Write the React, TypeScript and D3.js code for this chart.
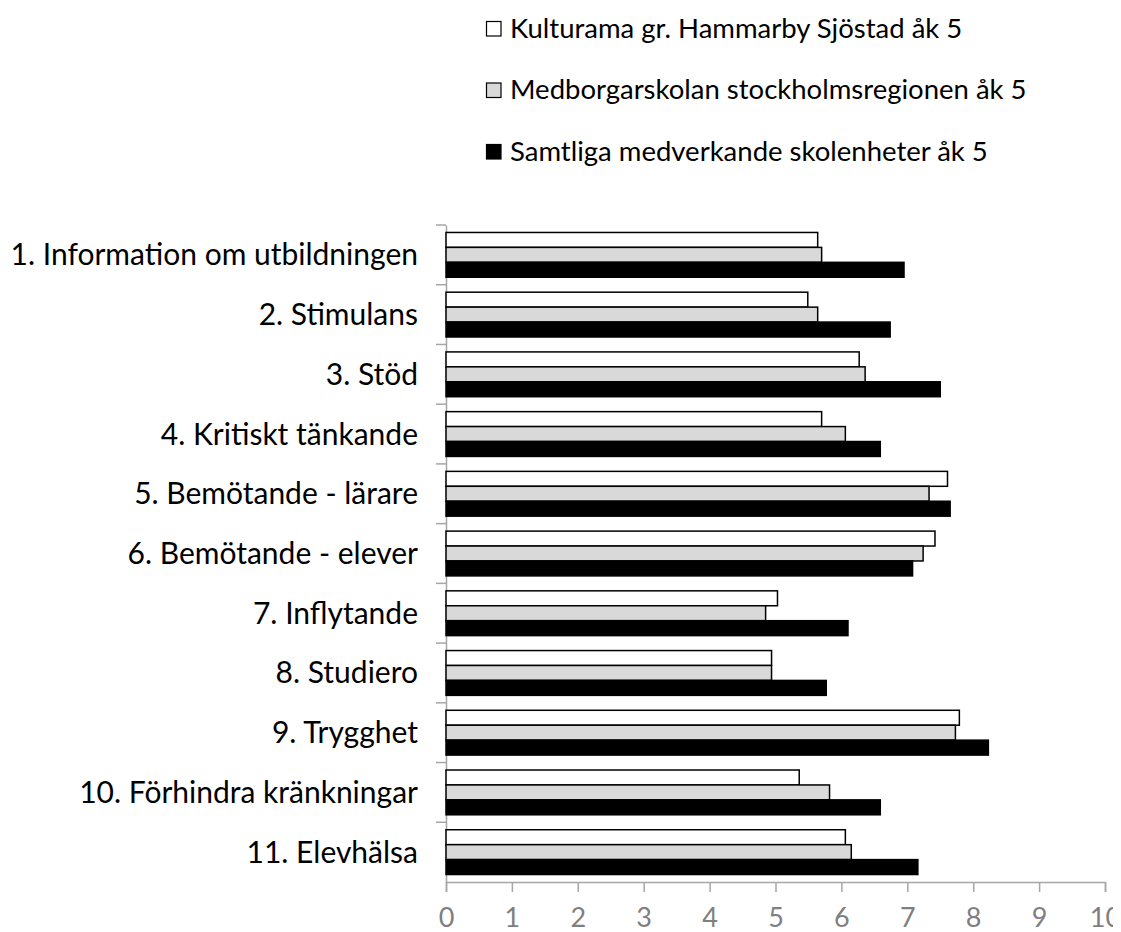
import { useEffect, useRef } from 'react'
import * as d3 from 'd3'

const categories = [
  '1. Information om utbildningen',
  '2. Stimulans',
  '3. Stöd',
  '4. Kritiskt tänkande',
  '5. Bemötande - lärare',
  '6. Bemötande - elever',
  '7. Inflytande',
  '8. Studiero',
  '9. Trygghet',
  '10. Förhindra kränkningar',
  '11. Elevhälsa'
]

const seriesNames = [
  'Kulturama gr. Hammarby Sjöstad åk 5',
  'Medborgarskolan stockholmsregionen åk 5',
  'Samtliga medverkande skolenheter åk 5'
]

const kulturama = [5.64, 5.49, 6.27, 5.70, 7.61, 7.42, 5.03, 4.94, 7.79, 5.36, 6.06]
const medborgar = [5.70, 5.64, 6.36, 6.06, 7.33, 7.24, 4.85, 4.94, 7.73, 5.82, 6.15]
const samtliga = [6.95, 6.74, 7.50, 6.59, 7.65, 7.08, 6.10, 5.77, 8.23, 6.59, 7.16]

const xTicks = [0, 1, 2, 3, 4, 5, 6, 7, 8, 9, 10]

const fills = ['#ffffff', '#d9d9d9', '#000000']

const svgWidth = 1113
const svgHeight = 924
const margin = { top: 217, right: 16, bottom: 50, left: 438 }
const font = 'Lato, "Open Sans", sans-serif'

export default function App() {
  const svgRef = useRef(null)

  useEffect(() => {
    const el = svgRef.current
    el.innerHTML = ''
    const width = svgWidth - margin.left - margin.right
    const height = svgHeight - margin.top - margin.bottom
    const series = [kulturama, medborgar, samtliga]

    const x = d3.scaleLinear().domain([0, 10]).range([0, width])
    const y = d3.scaleBand().domain(categories).range([0, height])
    const yInner = d3.scaleBand()
      .domain(seriesNames)
      .range([0, y.bandwidth()])
      .paddingOuter(0.5)
      .paddingInner(0)

    const svg = d3.select(el)
    const g = svg.append('g')
      .attr('transform', `translate(${margin.left}, ${margin.top})`)

    // axes
    g.append('g')
      .attr('transform', `translate(0, ${height})`)
      .call(d3.axisBottom(x).tickValues(xTicks).tickSize(10).tickPadding(16))
      .call(a => a.select('.domain').attr('stroke', '#a6a6a6').attr('stroke-width', 1.5))
      .call(a => a.selectAll('line').attr('stroke', '#a6a6a6').attr('stroke-width', 1.5))
      .call(a => a.selectAll('text')
        .attr('fill', '#7f7f7f')
        .style('font-size', '27px')
        .style('font-family', font))

    g.append('g')
      .call(d3.axisLeft(y).tickValues([]).tickSize(0))
      .call(a => a.select('.domain').attr('stroke', '#a6a6a6').attr('stroke-width', 1.5))

    // category boundary ticks
    g.append('g')
      .selectAll('line')
      .data(categories)
      .join('line')
      .attr('x1', -10)
      .attr('x2', 0)
      .attr('y1', d => y(d))
      .attr('y2', d => y(d))
      .attr('stroke', '#a6a6a6')
      .attr('stroke-width', 1.5)

    g.append('g')
      .selectAll('text')
      .data(categories)
      .join('text')
      .attr('x', -28)
      .attr('y', d => y(d) + y.bandwidth() / 2)
      .attr('dy', '0.35em')
      .attr('text-anchor', 'end')
      .attr('fill', '#000')
      .style('font-size', '30px')
      .style('font-family', font)
      .text(d => d)

    // bars
    seriesNames.forEach((name, si) => {
      g.append('g')
        .selectAll('rect')
        .data(series[si])
        .join('rect')
        .attr('x', x(0))
        .attr('y', (d, i) => y(categories[i]) + yInner(name))
        .attr('width', d => x(d) - x(0))
        .attr('height', yInner.bandwidth())
        .attr('fill', fills[si])
        .attr('stroke', '#000')
        .attr('stroke-width', 1.5)
    })

    // legend
    const legend = svg.append('g')
      .attr('transform', 'translate(478, 13)')
    const item = legend.selectAll('g')
      .data(seriesNames)
      .join('g')
      .attr('transform', (d, i) => `translate(0, ${i * 61.5})`)
    item.append('rect')
      .attr('x', 0.5)
      .attr('y', 0.5)
      .attr('width', 14.5)
      .attr('height', 14.5)
      .attr('fill', (d, i) => fills[i])
      .attr('stroke', '#000')
      .attr('stroke-width', 1.2)
    item.append('text')
      .attr('x', 24)
      .attr('y', 7)
      .attr('dy', '0.35em')
      .attr('fill', '#000')
      .style('font-size', '27.5px')
      .style('font-family', font)
      .text(d => d)
  }, [])

  return (
    <svg
      ref={ svgRef }
      width={ svgWidth }
      height={ svgHeight }
      style={ { display: 'block' } }
    />
  )
}
